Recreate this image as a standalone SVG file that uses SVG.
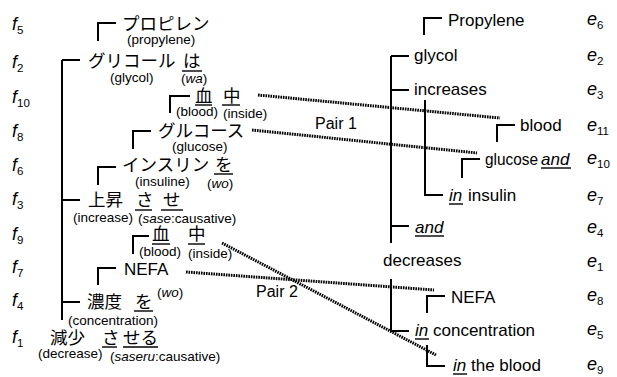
<svg xmlns="http://www.w3.org/2000/svg" width="617" height="377" viewBox="0 0 617 377">
<style>
.jp{font-family:"Noto Sans CJK JP","Noto Sans CJK SC",sans-serif;font-size:17.5px;fill:#000}
.sm{font-family:"Liberation Sans",Arial,sans-serif;font-size:13.5px;fill:#000}
.en{font-family:"Liberation Sans",Arial,sans-serif;font-size:17px;fill:#000}
.lab{font-family:"Liberation Sans",Arial,sans-serif;font-size:18px;font-style:italic;fill:#000}
.sub{font-size:11.5px;font-style:normal}
.it{font-style:italic}
.ln{stroke:#000;stroke-width:2;fill:none}
.ul{stroke:#000;stroke-width:1.4;fill:none}
.dot{stroke:#000;stroke-width:3;stroke-dasharray:1.6 0.9;fill:none}
.pair{font-family:"Liberation Sans",Arial,sans-serif;font-size:16px;fill:#000}
</style>
<rect width="617" height="377" fill="#fff"/>

<g id="f-labels">
<text class="lab" x="12" y="30">f<tspan class="sub" dy="4">5</tspan></text>
<text class="lab" x="12" y="68">f<tspan class="sub" dy="4">2</tspan></text>
<text class="lab" x="12" y="103">f<tspan class="sub" dy="4">10</tspan></text>
<text class="lab" x="12" y="137">f<tspan class="sub" dy="4">8</tspan></text>
<text class="lab" x="12" y="171">f<tspan class="sub" dy="4">6</tspan></text>
<text class="lab" x="12" y="205">f<tspan class="sub" dy="4">3</tspan></text>
<text class="lab" x="12" y="240">f<tspan class="sub" dy="4">9</tspan></text>
<text class="lab" x="12" y="273">f<tspan class="sub" dy="4">7</tspan></text>
<text class="lab" x="12" y="306">f<tspan class="sub" dy="4">4</tspan></text>
<text class="lab" x="12" y="343">f<tspan class="sub" dy="4">1</tspan></text>
</g>

<g id="e-labels">
<text class="lab" x="587" y="25">e<tspan class="sub" dy="4">6</tspan></text>
<text class="lab" x="587" y="61">e<tspan class="sub" dy="4">2</tspan></text>
<text class="lab" x="587" y="95">e<tspan class="sub" dy="4">3</tspan></text>
<text class="lab" x="587" y="131">e<tspan class="sub" dy="4">11</tspan></text>
<text class="lab" x="587" y="164">e<tspan class="sub" dy="4">10</tspan></text>
<text class="lab" x="587" y="201">e<tspan class="sub" dy="4">7</tspan></text>
<text class="lab" x="587" y="233">e<tspan class="sub" dy="4">4</tspan></text>
<text class="lab" x="587" y="267">e<tspan class="sub" dy="4">1</tspan></text>
<text class="lab" x="587" y="301">e<tspan class="sub" dy="4">8</tspan></text>
<text class="lab" x="587" y="335">e<tspan class="sub" dy="4">5</tspan></text>
<text class="lab" x="587" y="370">e<tspan class="sub" dy="4">9</tspan></text>
</g>

<g id="connectors">
<path class="ln" d="M62 60V320M62 60H80M62 200H80M62 302H80"/>
<path class="ln" d="M98 41V23H116"/>
<path class="ln" d="M170 113V96H190"/>
<path class="ln" d="M133 149V131H151"/>
<path class="ln" d="M98 185V167H116"/>
<path class="ln" d="M133 254V236H149"/>
<path class="ln" d="M98 285V268H116"/>
<path class="ln" d="M424 35V18H442"/>
<path class="ln" d="M391 56V243M391 56H409M391 90H409M391 226H409"/>
<path class="ln" d="M425 100V195H443"/>
<path class="ln" d="M497 142V125H515"/>
<path class="ln" d="M462 178V159H480"/>
<path class="ln" d="M391 279V331H409"/>
<path class="ln" d="M427 313V296H445"/>
<path class="ln" d="M427 345V366H445"/>
<path class="dot" d="M258 95L500 118"/>
<path class="dot" d="M252 130L477 153"/>
<path class="dot" d="M222 243L436 355"/>
<path class="dot" d="M186 272L434 290"/>
</g>

<g id="f5">
<text class="jp" x="122" y="30">プロピレン</text>
<text class="sm" x="127" y="44">(propylene)</text>
</g>
<g id="f2">
<text class="jp" x="88" y="67">グリコール</text>
<text class="jp" x="183" y="67">は</text>
<line class="ul" x1="182" y1="71" x2="202" y2="71"/>
<text class="sm" x="110" y="82">(glycol)</text>
<text class="sm" x="181" y="83">(<tspan class="it">wa</tspan>)</text>
</g>
<g id="f10">
<text class="jp" x="195" y="102">血</text>
<text class="jp" x="223" y="102">中</text>
<line class="ul" x1="195" y1="105" x2="212" y2="105"/>
<line class="ul" x1="222" y1="105" x2="240" y2="105"/>
<text class="sm" x="176" y="116">(blood)</text>
<text class="sm" x="223" y="118">(inside)</text>
</g>
<g id="f8">
<text class="jp" x="158" y="137">グルコース</text>
<text class="sm" x="172" y="151">(glucose)</text>
</g>
<g id="f6">
<text class="jp" x="122" y="171">インスリン</text>
<text class="jp" x="215" y="171">を</text>
<line class="ul" x1="214" y1="174" x2="233" y2="174"/>
<text class="sm" x="135" y="186">(insuline)</text>
<text class="sm" x="207" y="188">(<tspan class="it">wo</tspan>)</text>
</g>
<g id="f3">
<text class="jp" x="88" y="206">上昇</text>
<text class="jp" x="136" y="206">さ</text>
<text class="jp" x="163" y="206">せ</text>
<line class="ul" x1="135" y1="210" x2="152" y2="210"/>
<line class="ul" x1="161" y1="210" x2="183" y2="210"/>
<text class="sm" x="73" y="222">(increase)</text>
<text class="sm" x="138" y="223">(<tspan class="it">sase</tspan>:causative)</text>
</g>
<g id="f9">
<text class="jp" x="152" y="240">血</text>
<text class="jp" x="188" y="240">中</text>
<line class="ul" x1="152" y1="244" x2="170" y2="244"/>
<line class="ul" x1="188" y1="244" x2="205" y2="244"/>
<text class="sm" x="139" y="256">(blood)</text>
<text class="sm" x="188" y="258">(inside)</text>
</g>
<g id="f7">
<text class="en" x="124" y="275">NEFA</text>
</g>
<g id="f4">
<text class="jp" x="87" y="308">濃度</text>
<text class="jp" x="135" y="308">を</text>
<line class="ul" x1="134" y1="311" x2="153" y2="311"/>
<text class="sm" x="157" y="297">(<tspan class="it">wo</tspan>)</text>
<text class="sm" x="68" y="325">(concentration)</text>
</g>
<g id="f1">
<text class="jp" x="50" y="344">減少</text>
<text class="jp" x="102" y="344">さ</text>
<text class="jp" x="123" y="344">せる</text>
<line class="ul" x1="102" y1="347" x2="117" y2="347"/>
<line class="ul" x1="123" y1="347" x2="158" y2="347"/>
<text class="sm" x="38" y="358">(decrease)</text>
<text class="sm" x="110" y="361">(<tspan class="it">saseru</tspan>:causative)</text>
</g>

<g id="pair1"><text class="pair" x="315" y="129">Pair 1</text></g>
<g id="pair2"><text class="pair" x="256" y="297">Pair 2</text></g>

<g id="e6"><text class="en" x="448" y="26">Propylene</text></g>
<g id="e2"><text class="en" x="414" y="61">glycol</text></g>
<g id="e3"><text class="en" x="414" y="95">increases</text></g>
<g id="e11"><text class="en" x="520" y="131">blood</text></g>
<g id="e10">
<text class="en" x="485" y="165" textLength="53" lengthAdjust="spacingAndGlyphs">glucose</text>
<text class="en it" x="541" y="165">and</text>
<line class="ul" x1="541" y1="168" x2="571" y2="168"/>
</g>
<g id="e7">
<text class="en it" x="449" y="201">in</text>
<line class="ul" x1="449" y1="204" x2="463" y2="204"/>
<text class="en" x="468" y="201">insulin</text>
</g>
<g id="e4">
<text class="en it" x="415" y="233">and</text>
<line class="ul" x1="415" y1="236" x2="444" y2="236"/>
</g>
<g id="e1"><text class="en" x="383" y="266">decreases</text></g>
<g id="e8"><text class="en" x="451" y="303">NEFA</text></g>
<g id="e5">
<text class="en it" x="415" y="336">in</text>
<line class="ul" x1="415" y1="339" x2="429" y2="339"/>
<text class="en" x="433" y="336">concentration</text>
</g>
<g id="e9">
<text class="en it" x="453" y="371">in</text>
<line class="ul" x1="453" y1="374" x2="467" y2="374"/>
<text class="en" x="471" y="371">the blood</text>
</g>
</svg>
